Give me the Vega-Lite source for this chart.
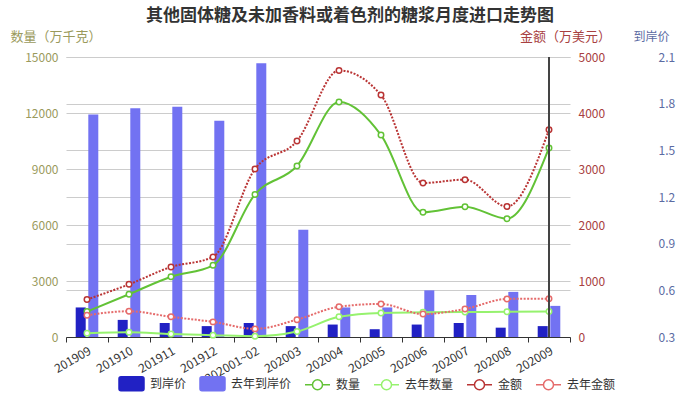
{
  "$schema": "https://vega.github.io/schema/vega-lite/v6.json",
  "width": 504,
  "height": 280,
  "autosize": {"type": "none"},
  "padding": {"left": 66, "top": 57, "right": 128, "bottom": 59},
  "background": "white",
  "title": {"text": "其他固体糖及未加香料或着色剂的糖浆月度进口走势图", "frame": "group", "anchor": "middle", "dx": 32, "offset": 5, "fontSize": 17, "fontWeight": "bold", "color": "#333333", "font": "Noto Sans CJK SC"},
  "config": {"font": "Noto Sans CJK SC", "view": {"stroke": null}},
  "data": {"values": [
    {"m": "201909", "k": "price", "s": "到岸价", "v": 0.49},
    {"m": "201910", "k": "price", "s": "到岸价", "v": 0.41},
    {"m": "201911", "k": "price", "s": "到岸价", "v": 0.39},
    {"m": "201912", "k": "price", "s": "到岸价", "v": 0.37},
    {"m": "202001~02", "k": "price", "s": "到岸价", "v": 0.39},
    {"m": "202003", "k": "price", "s": "到岸价", "v": 0.37},
    {"m": "202004", "k": "price", "s": "到岸价", "v": 0.38},
    {"m": "202005", "k": "price", "s": "到岸价", "v": 0.35},
    {"m": "202006", "k": "price", "s": "到岸价", "v": 0.38},
    {"m": "202007", "k": "price", "s": "到岸价", "v": 0.39},
    {"m": "202008", "k": "price", "s": "到岸价", "v": 0.36},
    {"m": "202009", "k": "price", "s": "到岸价", "v": 0.37},
    {"m": "201909", "k": "price", "s": "去年到岸价", "v": 1.73},
    {"m": "201910", "k": "price", "s": "去年到岸价", "v": 1.77},
    {"m": "201911", "k": "price", "s": "去年到岸价", "v": 1.78},
    {"m": "201912", "k": "price", "s": "去年到岸价", "v": 1.69},
    {"m": "202001~02", "k": "price", "s": "去年到岸价", "v": 2.06},
    {"m": "202003", "k": "price", "s": "去年到岸价", "v": 0.99},
    {"m": "202004", "k": "price", "s": "去年到岸价", "v": 0.49},
    {"m": "202005", "k": "price", "s": "去年到岸价", "v": 0.49},
    {"m": "202006", "k": "price", "s": "去年到岸价", "v": 0.6},
    {"m": "202007", "k": "price", "s": "去年到岸价", "v": 0.57},
    {"m": "202008", "k": "price", "s": "去年到岸价", "v": 0.59},
    {"m": "202009", "k": "price", "s": "去年到岸价", "v": 0.5},
    {"m": "201909", "k": "qty", "s": "数量", "v": 1360},
    {"m": "201910", "k": "qty", "s": "数量", "v": 2290},
    {"m": "201911", "k": "qty", "s": "数量", "v": 3230},
    {"m": "201912", "k": "qty", "s": "数量", "v": 3840},
    {"m": "202001~02", "k": "qty", "s": "数量", "v": 7640},
    {"m": "202003", "k": "qty", "s": "数量", "v": 9160},
    {"m": "202004", "k": "qty", "s": "数量", "v": 12590},
    {"m": "202005", "k": "qty", "s": "数量", "v": 10820},
    {"m": "202006", "k": "qty", "s": "数量", "v": 6680},
    {"m": "202007", "k": "qty", "s": "数量", "v": 6980},
    {"m": "202008", "k": "qty", "s": "数量", "v": 6340},
    {"m": "202009", "k": "qty", "s": "数量", "v": 10128},
    {"m": "201909", "k": "qty", "s": "去年数量", "v": 200},
    {"m": "201910", "k": "qty", "s": "去年数量", "v": 250},
    {"m": "201911", "k": "qty", "s": "去年数量", "v": 160},
    {"m": "201912", "k": "qty", "s": "去年数量", "v": 100},
    {"m": "202001~02", "k": "qty", "s": "去年数量", "v": 40},
    {"m": "202003", "k": "qty", "s": "去年数量", "v": 290},
    {"m": "202004", "k": "qty", "s": "去年数量", "v": 1080},
    {"m": "202005", "k": "qty", "s": "去年数量", "v": 1290},
    {"m": "202006", "k": "qty", "s": "去年数量", "v": 1320},
    {"m": "202007", "k": "qty", "s": "去年数量", "v": 1340},
    {"m": "202008", "k": "qty", "s": "去年数量", "v": 1350},
    {"m": "202009", "k": "qty", "s": "去年数量", "v": 1370},
    {"m": "201909", "k": "amt", "s": "金额", "v": 670},
    {"m": "201910", "k": "amt", "s": "金额", "v": 940},
    {"m": "201911", "k": "amt", "s": "金额", "v": 1250},
    {"m": "201912", "k": "amt", "s": "金额", "v": 1430},
    {"m": "202001~02", "k": "amt", "s": "金额", "v": 3000},
    {"m": "202003", "k": "amt", "s": "金额", "v": 3500},
    {"m": "202004", "k": "amt", "s": "金额", "v": 4760},
    {"m": "202005", "k": "amt", "s": "金额", "v": 4320},
    {"m": "202006", "k": "amt", "s": "金额", "v": 2750},
    {"m": "202007", "k": "amt", "s": "金额", "v": 2810},
    {"m": "202008", "k": "amt", "s": "金额", "v": 2330},
    {"m": "202009", "k": "amt", "s": "金额", "v": 3701},
    {"m": "201909", "k": "amt", "s": "去年金额", "v": 390},
    {"m": "201910", "k": "amt", "s": "去年金额", "v": 460},
    {"m": "201911", "k": "amt", "s": "去年金额", "v": 360},
    {"m": "201912", "k": "amt", "s": "去年金额", "v": 270},
    {"m": "202001~02", "k": "amt", "s": "去年金额", "v": 145},
    {"m": "202003", "k": "amt", "s": "去年金额", "v": 310},
    {"m": "202004", "k": "amt", "s": "去年金额", "v": 540},
    {"m": "202005", "k": "amt", "s": "去年金额", "v": 590},
    {"m": "202006", "k": "amt", "s": "去年金额", "v": 410},
    {"m": "202007", "k": "amt", "s": "去年金额", "v": 500},
    {"m": "202008", "k": "amt", "s": "去年金额", "v": 680},
    {"m": "202009", "k": "amt", "s": "去年金额", "v": 684}
  ]},
  "layer": [
    {
      "transform": [{"filter": "datum.k === 'price'"}],
      "mark": {"type": "bar"},
      "encoding": {
        "x": {"field": "m", "type": "nominal", "scale": {"paddingInner": 0, "paddingOuter": 0},
          "axis": {"title": null, "labelAngle": -30, "tickBand": "extent", "domainColor": "#333333", "tickColor": "#333333", "tickSize": 5, "labelColor": "#333333", "labelFontSize": 12, "grid": false, "labelPadding": 3}},
        "xOffset": {"field": "s", "type": "nominal", "scale": {"domain": ["到岸价", "去年到岸价"], "paddingInner": 0.206, "paddingOuter": 0.77}},
        "y": {"field": "v", "type": "quantitative", "scale": {"domain": [0.3, 2.1], "zero": false, "nice": false},
          "axis": {"orient": "right", "offset": 80, "title": "到岸价", "titleAngle": 0, "titleAlign": "center", "titleBaseline": "middle", "titleX": 1, "titleY": -21, "titleFontSize": 12, "titleFontWeight": "normal", "titleColor": "#5b6ba3", "labelColor": "#5b6ba3", "labelFontSize": 12, "values": [0.3, 0.6, 0.9, 1.2, 1.5, 1.8, 2.1], "format": ".1f", "domain": false, "ticks": false, "grid": true, "gridColor": "#cccccc", "labelPadding": 8}},
        "y2": {"datum": 0.3},
        "color": {"field": "s", "type": "nominal",
          "scale": {"domain": ["到岸价", "去年到岸价", "数量", "去年数量", "金额", "去年金额"], "range": ["#2121c4", "#7272f2", "#62c236", "#96f26e", "#b93434", "#e56b6b"]},
          "legend": {"orient": "none", "legendX": 52, "legendY": 313, "direction": "horizontal", "columns": 6, "title": null, "labelFontSize": 12, "labelColor": "#333333", "symbolSize": 625, "labelOffset": 5, "columnPadding": 10,
            "encode": {"symbols": {"update": {
              "shape": {"signal": "(datum.value === '到岸价' || datum.value === '去年到岸价') ? 'M-0.84,-0.56L0.84,-0.56A0.16,0.16 0 0 1 1,-0.4L1,0.4A0.16,0.16 0 0 1 0.84,0.56L-0.84,0.56A0.16,0.16 0 0 1 -1,0.4L-1,-0.4A0.16,0.16 0 0 1 -0.84,-0.56Z' : 'M-1,0L-0.4,0M0.4,0L1,0M0.4,0A0.4,0.4 0 1 1 -0.4,0A0.4,0.4 0 1 1 0.4,0'"},
              "fill": {"signal": "(datum.value === '到岸价' || datum.value === '去年到岸价') ? scale('color', datum.value) : '#ffffff'"},
              "fillOpacity": {"signal": "(datum.value === '到岸价' || datum.value === '去年到岸价') ? 1 : 0"},
              "stroke": {"signal": "(datum.value === '到岸价' || datum.value === '去年到岸价') ? 'transparent' : scale('color', datum.value)"},
              "strokeWidth": {"value": 1.5},
              "opacity": {"value": 1}
            }}}}
        }
      }
    },
    {
      "transform": [{"filter": "datum.k === 'qty'"}],
      "encoding": {
        "x": {"field": "m", "type": "nominal"},
        "y": {"field": "v", "type": "quantitative", "scale": {"domain": [0, 15000], "nice": false},
          "axis": {"orient": "left", "title": "数量（万千克）", "titleAngle": 0, "titleAlign": "left", "titleBaseline": "middle", "titleX": -56, "titleY": -21, "titleFontSize": 13, "titleFontWeight": "normal", "titleColor": "#9a9a5c", "labelColor": "#9a9a5c", "labelFontSize": 12, "format": "d", "values": [0, 3000, 6000, 9000, 12000, 15000], "domain": false, "ticks": false, "grid": true, "gridColor": "#cccccc", "labelPadding": 8}},
        "color": {"field": "s", "type": "nominal"}
      },
      "layer": [
        {"mark": {"type": "line", "interpolate": "monotone", "strokeWidth": 2}},
        {"mark": {"type": "point", "filled": false, "fill": "#ffffff", "size": 30, "strokeWidth": 1.5, "opacity": 1}}
      ]
    },
    {
      "transform": [{"filter": "datum.k === 'amt'"}],
      "encoding": {
        "x": {"field": "m", "type": "nominal"},
        "y": {"field": "v", "type": "quantitative", "scale": {"domain": [0, 5000], "nice": false},
          "axis": {"orient": "right", "title": "金额（万美元）", "titleAngle": 0, "titleAlign": "center", "titleBaseline": "middle", "titleX": -5, "titleY": -21, "titleFontSize": 13, "titleFontWeight": "normal", "titleColor": "#a84040", "labelColor": "#a84040", "labelFontSize": 12, "format": "d", "values": [0, 1000, 2000, 3000, 4000, 5000], "domain": false, "ticks": false, "grid": false, "labelPadding": 8}},
        "color": {"field": "s", "type": "nominal"}
      },
      "layer": [
        {"mark": {"type": "line", "interpolate": "monotone", "strokeWidth": 2, "strokeDash": [2, 1.5]}},
        {"mark": {"type": "point", "filled": false, "fill": "#ffffff", "size": 30, "strokeWidth": 1.5, "opacity": 1}}
      ]
    },
    {
      "mark": {"type": "rule", "color": "#444444", "strokeWidth": 1},
      "encoding": {"x": {"datum": "202009"}}
    }
  ],
  "resolve": {"scale": {"y": "independent"}}
}
